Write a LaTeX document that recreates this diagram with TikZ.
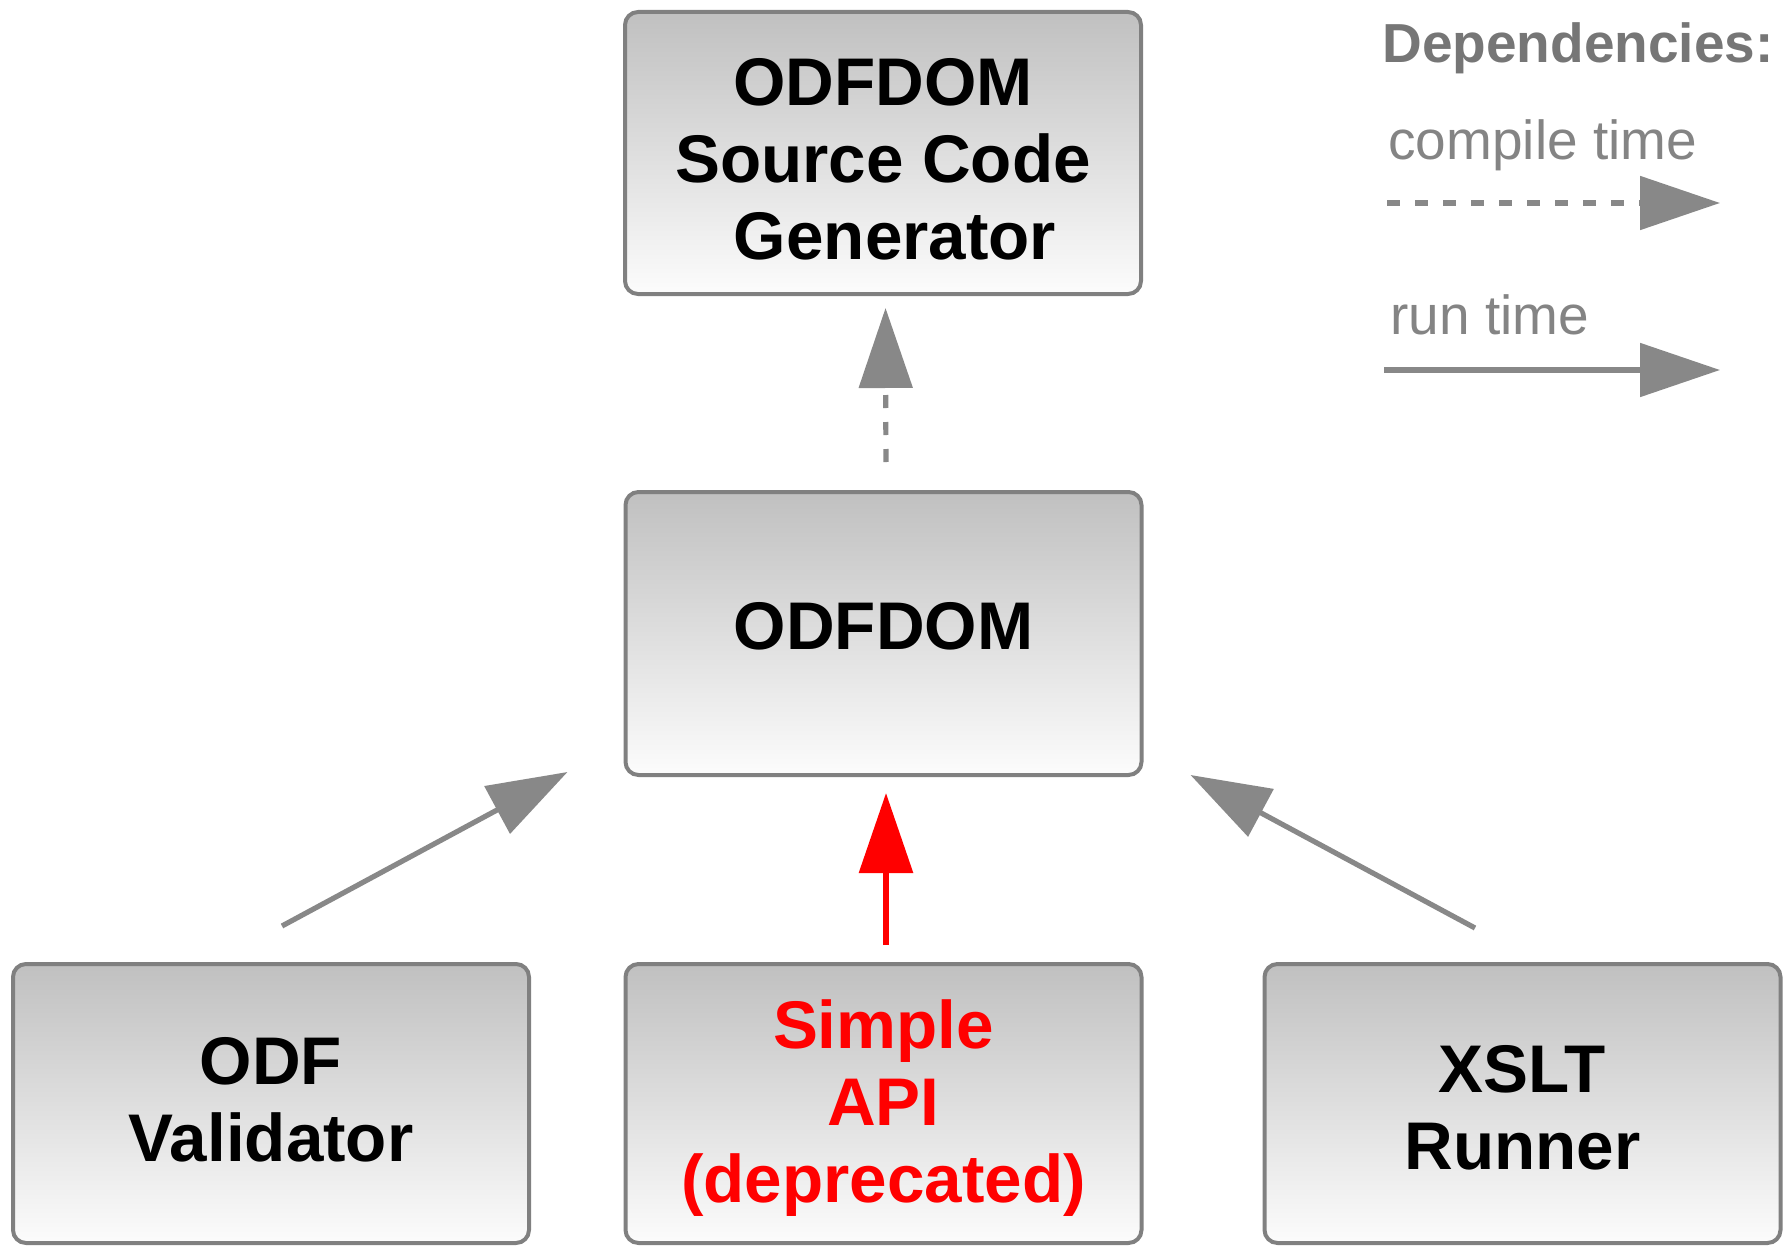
\documentclass[tikz,border=0pt]{standalone}
\usepackage{fontspec}
\setmainfont{Liberation Sans}
\usetikzlibrary{arrows.meta,calc}
\definecolor{boxline}{RGB}{128,128,128}
\definecolor{boxtop}{RGB}{192,192,192}
\definecolor{boxbot}{RGB}{252,252,252}
\definecolor{arrowgray}{RGB}{136,136,136}
\definecolor{titlegray}{RGB}{118,118,118}
\definecolor{legendgray}{RGB}{132,132,132}
\begin{document}
\begin{tikzpicture}[x=0.5pt,y=-0.5pt,
  box/.style={draw=boxline, line width=2pt, rounded corners=6.5pt,
    top color=boxtop, bottom color=boxbot, minimum width=258pt,
    align=center, inner sep=0pt,
    font=\bfseries\fontsize{33.7}{38.5}\selectfont},
  dep/.style={-{Triangle[length=40pt,width=26.5pt]}, line width=2.6pt, draw=arrowgray},
  compiledep/.style={dep, dash pattern=on 6.5pt off 7.5pt},
  legendtext/.style={anchor=base west, inner sep=0pt, text=legendgray,
    font=\fontsize{27.5}{33}\selectfont}
]
\useasboundingbox (0,0) rectangle (1785,1247);

% boxes
\node[box, minimum height=141pt] (gen) at (883,153)
  {\rule{0pt}{30pt}ODFDOM\\Source Code\\\hspace*{12pt}Generator};
\node[box, minimum height=141.5pt] (dom) at (883.5,633.5)
  {\rule[-7.5pt]{0pt}{7.5pt}ODFDOM};
\node[box, minimum height=139.5pt] (val) at (271,1103.5)
  {ODF\\Validator\rule[-4pt]{0pt}{4pt}};
\node[box, minimum height=139.5pt, text=red] (api) at (883.5,1103.5)
  {\rule{0pt}{28.5pt}Simple\\API\\(deprecated)};
\node[box, minimum height=139.5pt] (xslt) at (1522.5,1103.5)
  {\rule{0pt}{28pt}XSLT\\Runner};

% dependencies
\draw[compiledep, dash pattern=on 6.5pt off 7pt, shorten <=14pt, shorten >=6pt]
  ($(dom.north)+(2.5,0)$) -- ($(gen.south)+(2.5,0)$);
\draw[dep, draw=red, line width=3pt, shorten <=8.5pt, shorten >=8pt]
  ($(api.north)+(2.5,0)$) -- ($(dom.south)+(2.5,0)$);
\draw[dep] ($(val.north)+(11,-36)$) -- ($(dom.south west)+(-56,-5)$);
\draw[dep] ($(xslt.north)+(-47.5,-34)$) -- ($(dom.south east)+(47,-2)$);

% legend
\node[legendtext, text=titlegray, font=\bfseries\fontsize{27.5}{33}\selectfont] (deptitle) at (1382,63) {Dependencies:};
\node[legendtext] (ctlabel) at (1388,160) {compile time};
\node[legendtext] (rtlabel) at (1390,335) {run time};
\coordinate (cta) at (1387,203);
\coordinate (ctb) at (1720,203);
\coordinate (rta) at (1384,370);
\coordinate (rtb) at (1720,370);
\draw[compiledep] (cta) -- (ctb);
\draw[dep] (rta) -- (rtb);
\end{tikzpicture}
\end{document}
